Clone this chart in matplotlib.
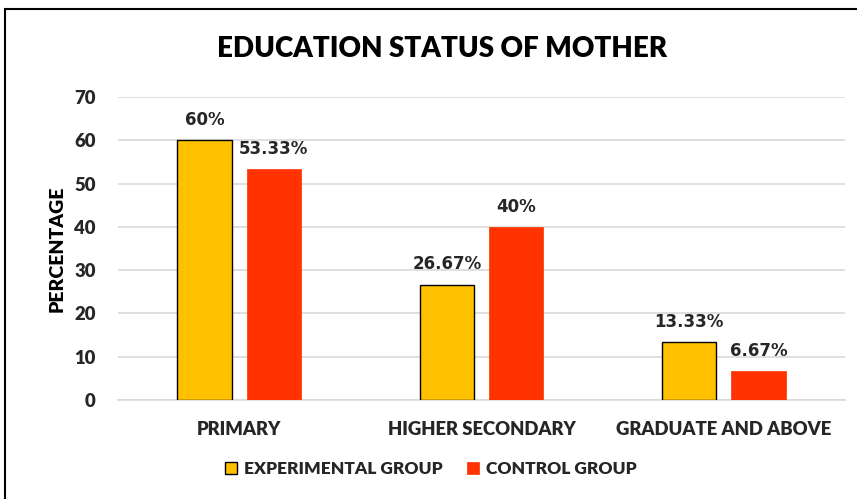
import numpy as np
import matplotlib.pyplot as plt
from matplotlib.patches import Rectangle

categories = ["PRIMARY", "HIGHER SECONDARY", "GRADUATE AND ABOVE"]
experimental = [60, 26.67, 13.33]
control = [53.33, 40, 6.67]
exp_labels = ["60%", "26.67%", "13.33%"]
ctrl_labels = ["53.33%", "40%", "6.67%"]
yticks = [0, 10, 20, 30, 40, 50, 60, 70]

FONT = "Lato"
WEIGHT = "heavy"

fig = plt.figure(figsize=(8.57, 4.99), dpi=100)
ax = fig.add_axes([118 / 857, 99 / 499, 727 / 857, 303 / 499])

x = np.arange(len(categories))
w = 0.223
off = 0.143
b1 = ax.bar(x - off, experimental, w, color="#FFC000", edgecolor="black", linewidth=1.0,
            label="EXPERIMENTAL GROUP", zorder=3)
b2 = ax.bar(x + off, control, w, color="#FF3300", edgecolor="#FF3300", linewidth=0.5,
            label="CONTROL GROUP", zorder=3)

# data labels above each bar
lab_font = dict(family="DejaVu Sans", fontsize=12, fontweight="bold", color="#262626")
for xi, v, s in zip(x - off, experimental, exp_labels):
    ax.text(xi, v + 2.6, s, ha="center", va="bottom", **lab_font)
for xi, v, s in zip(x + off, control, ctrl_labels):
    ax.text(xi, v + 2.6, s, ha="center", va="bottom", **lab_font)

ax.set_xlim(-0.5, 2.5)
ax.set_ylim(0, 70)
ax.set_yticks(yticks)
ax.set_xticks(x)
ax.set_xticklabels(categories)
ax.yaxis.grid(True, color="#d9d9d9", linewidth=1.2, zorder=0)
ax.set_axisbelow(True)
for s in ["top", "right", "left"]:
    ax.spines[s].set_visible(False)
ax.spines["bottom"].set_color("#d9d9d9")
ax.spines["bottom"].set_linewidth(1.2)
ax.tick_params(length=0)
ax.tick_params(axis="x", pad=15)
ax.tick_params(axis="y", pad=16)
for t in ax.get_xticklabels() + ax.get_yticklabels():
    t.set_family(FONT)
    t.set_fontweight(WEIGHT)
    t.set_fontsize(13.3)
    t.set_color("#262626")

ax.set_ylabel("PERCENTAGE", family=FONT, fontweight=WEIGHT, fontsize=14,
              color="black", labelpad=6)

fig.text(442 / 857, 1 - 49 / 499, "EDUCATION STATUS OF MOTHER", ha="center", va="center",
         family=FONT, fontweight=WEIGHT, fontsize=20, color="black")

leg = fig.legend(handles=[b1, b2], loc="center", bbox_to_anchor=(431 / 857, 1 - 469 / 499),
                 ncol=2, frameon=False, handlelength=0.7, handleheight=0.7, handletextpad=0.4,
                 columnspacing=1.4, prop=dict(family=FONT, weight=WEIGHT, size=12.5))
for t in leg.get_texts():
    t.set_color("#262626")

# outer chart border (runs off the right and bottom edges)
fig.patches.append(Rectangle((5 / 857, -0.1), 1.1, 1 - 9 / 499 + 0.1, transform=fig.transFigure,
                             fill=False, edgecolor="black", linewidth=1.5))

fig.savefig("out.png", dpi=100)
